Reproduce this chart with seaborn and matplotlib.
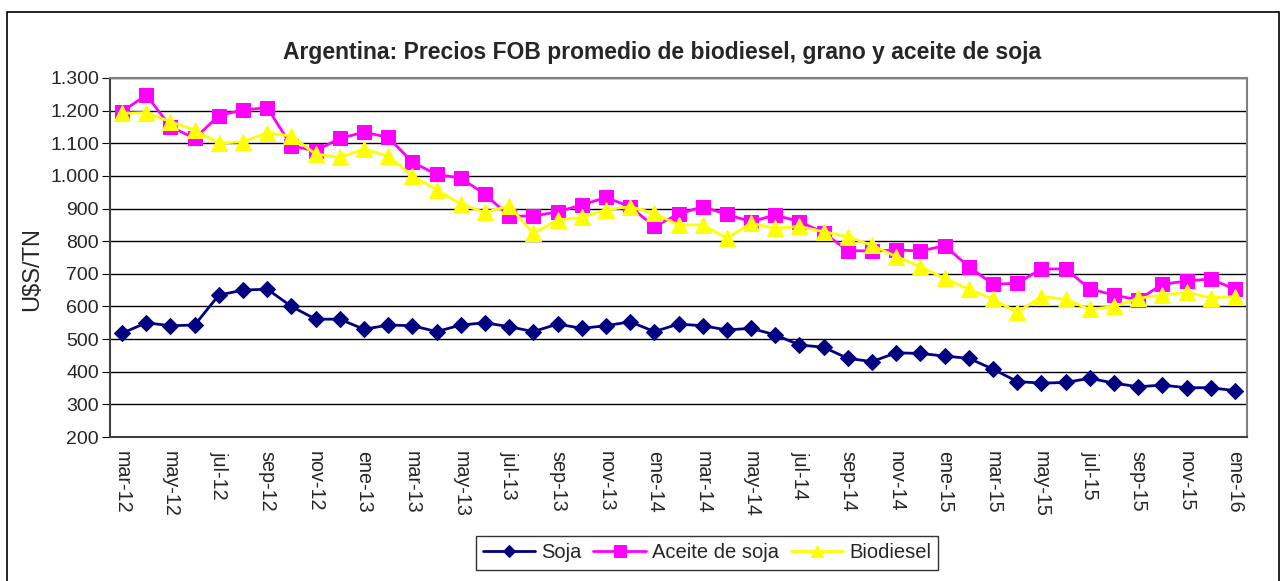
import matplotlib
matplotlib.use("Agg")
import matplotlib.pyplot as plt
import matplotlib.ticker as mticker
from matplotlib.patches import Rectangle
import numpy as np
import pandas as pd
import seaborn as sns

sns.set_style("white")
plt.rcParams["font.family"] = ["Liberation Sans", "DejaVu Sans"]

months = ["ene", "feb", "mar", "abr", "may", "jun",
          "jul", "ago", "sep", "oct", "nov", "dic"]
periods = [f"{months[(2 + i) % 12]}-{12 + (2 + i) // 12}" for i in range(47)]

soja = [518, 550, 541, 543, 635, 650, 653, 600, 561, 561, 530, 543,
        541, 523, 543, 550, 538, 523, 546, 533, 541, 553, 523, 546,
        541, 528, 533, 513, 482, 475, 441, 431, 458, 456, 448, 441,
        408, 370, 365, 367, 380, 365, 354, 359, 351, 351, 342]
aceite = [1197, 1248, 1151, 1115, 1185, 1202, 1209, 1092, 1077, 1115, 1134, 1118,
          1042, 1005, 993, 944, 877, 877, 890, 911, 934, 906, 845, 883,
          906, 882, 860, 880, 860, 826, 771, 770, 773, 770, 786, 722,
          668, 671, 715, 715, 654, 635, 620, 668, 678, 684, 653]
biodiesel = [1192, 1194, 1166, 1141, 1100, 1105, 1132, 1122, 1067, 1057, 1082, 1061,
             1000, 957, 914, 888, 908, 824, 865, 873, 896, 906, 885, 850,
             850, 809, 855, 840, 845, 829, 814, 787, 753, 722, 686, 653,
             622, 582, 630, 622, 591, 600, 625, 635, 643, 627, 630]

series = ["Soja", "Aceite de soja", "Biodiesel"]
colors = {"Soja": "#000080", "Aceite de soja": "#ff00ff", "Biodiesel": "#ffff00"}
markers = {"Soja": "D", "Aceite de soja": "s", "Biodiesel": "^"}
sizes = {"Soja": 8, "Aceite de soja": 10, "Biodiesel": 11}

df = pd.DataFrame({
    "idx": np.tile(np.arange(len(periods)), 3),
    "valor": soja + aceite + biodiesel,
    "serie": np.repeat(series, len(periods)),
})

fig = plt.figure(figsize=(12.81, 5.81), dpi=100)
ax = fig.add_axes([110 / 1281, 1 - 437 / 581, (1247 - 110) / 1281, (437 - 78) / 581])

for name in series:
    sub = df[df["serie"] == name]
    sns.lineplot(data=sub, x="idx", y="valor", ax=ax, color=colors[name],
                 marker=markers[name], markersize=sizes[name],
                 markeredgecolor=colors[name], linewidth=2, label=name,
                 legend=False)

ax.set_xlim(-0.5, len(periods) - 0.5)
ax.set_ylim(200, 1300)
ax.yaxis.set_major_locator(mticker.MultipleLocator(100))
ax.yaxis.set_major_formatter(mticker.FuncFormatter(
    lambda v, p: f"{int(v):,}".replace(",", ".")))
ax.grid(axis="y", color="black", linewidth=1)
ax.set_axisbelow(True)

# month labels every two categories, ticks on the category boundaries
ax.set_xticks(np.arange(0, len(periods), 2))
ax.set_xticklabels(periods[::2], rotation=-90, fontsize=14.2)
ax.set_xticks(np.arange(-0.5, len(periods), 2), minor=True)
ax.tick_params(axis="x", which="major", length=0, pad=10)
ax.tick_params(axis="x", which="minor", length=5, color="black")
ax.tick_params(axis="y", length=6, color="black", labelsize=14, left=True, pad=2)

ax.set_xlabel("")
ax.set_ylabel("U$S/TN", fontsize=17)
ax.yaxis.set_label_coords((43 - 110) / 1137, (437 - 269) / 359)

for side in ["top", "right"]:
    ax.spines[side].set_color("#808080")
    ax.spines[side].set_linewidth(1.5)
for side in ["left", "bottom"]:
    ax.spines[side].set_color("#404040")
    ax.spines[side].set_linewidth(1.5)

fig.text(662 / 1281, 1 - 52 / 581,
         "Argentina: Precios FOB promedio de biodiesel, grano y aceite de soja",
         ha="center", va="center", fontsize=16.5, fontweight="bold")

handles, labels = ax.get_legend_handles_labels()
leg = fig.legend(handles, labels, loc="center", ncol=3,
                 bbox_to_anchor=(707 / 1281, 1 - 553 / 581),
                 fontsize=14.5, frameon=True, fancybox=False,
                 handlelength=2.6, handletextpad=0.3, columnspacing=0.6,
                 borderpad=0.35, markerscale=0.8)
leg.get_frame().set_edgecolor("black")
leg.get_frame().set_linewidth(1)

fig.patches.append(Rectangle((7 / 1281, -0.01), 1272 / 1281, 1 - 12 / 581 + 0.01,
                             transform=fig.transFigure, fill=False,
                             edgecolor="black", linewidth=1.2))

fig.savefig("out.png", dpi=100)
